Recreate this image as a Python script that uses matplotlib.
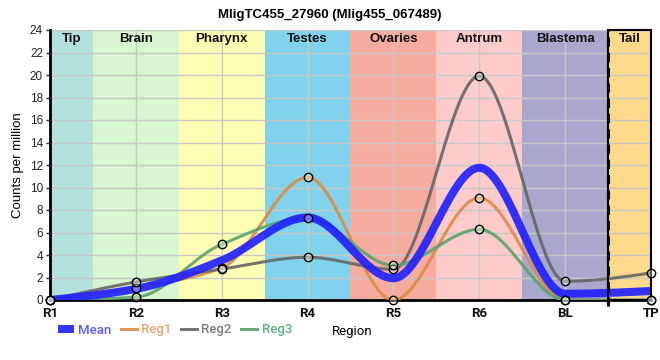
import numpy as np
import matplotlib
matplotlib.use("Agg")
import matplotlib.pyplot as plt
from matplotlib.patches import Rectangle

# donnees
regions = ["R1", "R2", "R3", "R4", "R5", "R6", "BL", "TP"]
reg1 = [0, 1.1, 2.85, 10.9, 0, 9.07, 0, 0]
reg2 = [0, 1.6, 2.75, 3.8, 2.73, 19.9, 1.66, 2.4]
reg3 = [0, 0.25, 4.95, 7.3, 3.08, 6.28, 0, 0]

zones = ["Tip", "Brain", "Pharynx", "Testes", "Ovaries", "Antrum", "Blastema", "Tail"]
zone_bornes = [0, 0.5, 1.5, 2.5, 3.5, 4.5, 5.5, 6.5, 7]
zone_couleurs = ["#b3e2dd", "#d8f6d0", "#ffffb3", "#80d3ea", "#f5ab9e",
                 "#fecbcb", "#a8a8cf", "#fdd98b"]


def pchip(y, n=60):
    # interpolation cubique monotone (Fritsch-Carlson)
    y = np.asarray(y, float)
    x = np.arange(len(y), dtype=float)
    d = np.diff(y)
    m = np.zeros(len(y))
    for k in range(1, len(y) - 1):
        if d[k - 1] * d[k] > 0:
            m[k] = 2.0 / (1.0 / d[k - 1] + 1.0 / d[k])
    m[0] = (3 * d[0] - m[1]) / 2
    if np.sign(m[0]) != np.sign(d[0]):
        m[0] = 0
    m[-1] = (3 * d[-1] - m[-2]) / 2
    if np.sign(m[-1]) != np.sign(d[-1]):
        m[-1] = 0
    xs, ys = [], []
    for k in range(len(y) - 1):
        t = np.linspace(0, 1, n, endpoint=(k == len(y) - 2))
        h00 = 2 * t**3 - 3 * t**2 + 1
        h10 = t**3 - 2 * t**2 + t
        h01 = -2 * t**3 + 3 * t**2
        h11 = t**3 - t**2
        xs.append(x[k] + t)
        ys.append(h00 * y[k] + h10 * m[k] + h01 * y[k + 1] + h11 * m[k + 1])
    return np.concatenate(xs), np.concatenate(ys)


moyenne = (np.array(reg1) + np.array(reg2) + np.array(reg3)) / 3

fig = plt.figure(figsize=(6.6, 3.6), dpi=100)
ax = fig.add_axes([50 / 660, 1 - 300 / 360, 601 / 660, 270 / 360])

for i in range(len(zones)):
    ax.axvspan(zone_bornes[i], zone_bornes[i + 1], color=zone_couleurs[i], zorder=0, lw=0)
    ax.text((zone_bornes[i] + zone_bornes[i + 1]) / 2, 23.2, zones[i], ha="center", va="center",
            fontsize=9.5, fontweight="bold", family="Liberation Sans", color="#111111", zorder=6)
ax.add_patch(Rectangle((6.5, 0), 0.5, 24, fill=False, ec="black", lw=1.5, zorder=5, clip_on=False))

ax.set_axisbelow(True)
ax.grid(True, color="#c8c8c8", lw=1)

series = [("Reg1", reg1, "#dd8a45"), ("Reg2", reg2, "#666666"), ("Reg3", reg3, "#5aa36c")]
for nom, vals, c in series:
    xs, ys = pchip(vals)
    ax.plot(xs, ys, color=c, lw=2.2, alpha=0.9, label=nom, zorder=3)
xs, ys = pchip(moyenne)
ax.plot(xs, ys, color="#1f1fff", lw=5.8, alpha=0.9, label="Mean", zorder=4, solid_capstyle="butt")
for nom, vals, c in series:
    ax.plot(range(len(vals)), vals, ls="none", marker="o", ms=6, mec="black", mew=1,
            mfc=(1, 1, 1, 0.35), zorder=6, clip_on=False)

ax.plot([6.5, 6.5], [-0.5, 24], color="black", lw=2.2, ls=(0, (3, 2)), zorder=7, clip_on=False)

ax.set_xlim(0, 7)
ax.set_ylim(0, 24)
ax.set_yticks(range(0, 25, 2))
ax.set_xticks(range(len(regions)))
ax.set_xticklabels(regions, family="Roboto", fontweight="bold", fontsize=9.5)
ax.tick_params(axis="y", labelsize=8.5, length=3, width=1, colors="#222222", pad=2)
ax.tick_params(axis="x", length=0, pad=5, colors="#111111")
for lab in ax.get_yticklabels():
    lab.set_family("Liberation Sans")

for s in ["left", "bottom"]:
    ax.spines[s].set_linewidth(2)
ax.spines["top"].set_visible(False)
ax.spines["right"].set_visible(False)

ax.set_ylabel("Counts per million", family="Liberation Sans", fontsize=9.5, labelpad=4)
fig.text(0.5, 0.975, "MligTC455_27960 (Mlig455_067489)", ha="center", va="top",
         fontsize=9.5, fontweight="bold", family="Liberation Sans")
fig.text(332 / 660, 1 - 331 / 360, "Region", ha="left", va="center", family="Roboto", fontsize=9.5)

h, l = ax.get_legend_handles_labels()
ordre = [3, 0, 1, 2]
leg = fig.legend([h[i] for i in ordre], [l[i] for i in ordre], loc="center left",
                 bbox_to_anchor=(46 / 660, 1 - 330 / 360), ncol=4, frameon=False,
                 handlelength=1.2, handletextpad=0.35, columnspacing=0.7,
                 prop={"family": "Roboto", "weight": "medium", "size": 9.5})
couleurs_txt = ["#5a5aff", "#f0a070", "#7a7a7a", "#5faf7f"]
for t, c in zip(leg.get_texts(), couleurs_txt):
    t.set_color(c)

fig.savefig("out.png", dpi=100)
